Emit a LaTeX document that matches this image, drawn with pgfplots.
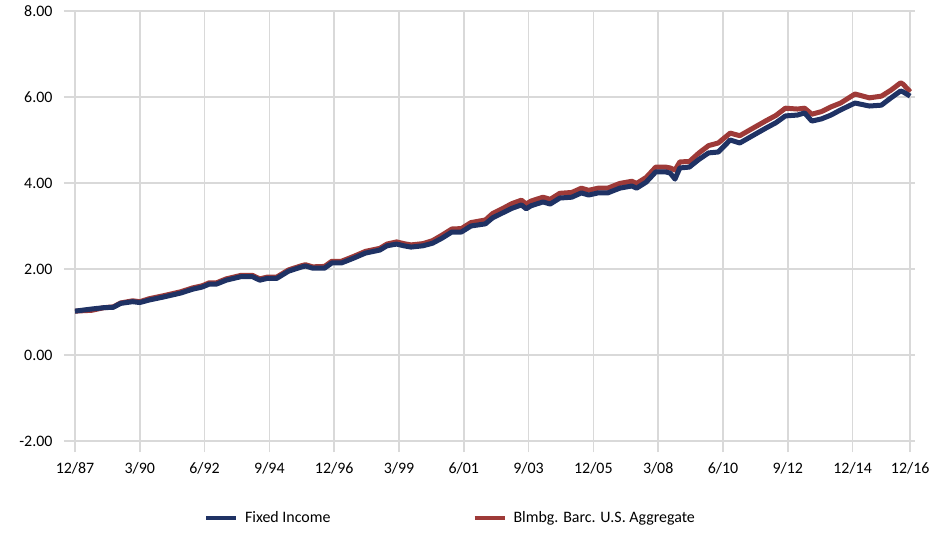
\documentclass[border=0pt]{standalone}
\usepackage{pgfplots}
\pgfplotsset{compat=1.18}
\usepackage{fontspec}
\setmainfont{Carlito}
\definecolor{fiblue}{HTML}{1F3264}
\definecolor{aggred}{HTML}{9E3A38}
\definecolor{gridgray}{HTML}{D9D9D9}
\begin{document}
\begin{tikzpicture}
\begin{axis}[
  name=ax,
  scale only axis,
  width=840bp, height=430bp,
  xmin=0, xmax=350,
  ymin=-2, ymax=8,
  axis x line*=bottom, axis y line*=left,
  axis line style={gridgray, line width=1.6bp},
  xtick={0,27,54,81,108,135,162,189,216,243,270,297,324,348},
  xticklabels={12/87,3/90,6/92,9/94,12/96,3/99,6/01,9/03,12/05,3/08,6/10,9/12,12/14,12/16},
  ytick={-2,0,2,4,6,8},
  yticklabels={-2.00,0.00,2.00,4.00,6.00,8.00},
  tick align=outside,
  major tick length=11bp,
  tick style={gridgray, line width=1.6bp},
  grid=major,
  major grid style={gridgray, line width=1.6bp},
  ticklabel style={font=\fontsize{16}{19}\selectfont, black},
  yticklabel style={xshift=-8bp},
  xticklabel style={yshift=-7bp},
  legend style={draw=none, fill=none, at={(0.447,-0.155)}, anchor=north,
    font=\fontsize{16}{19}\selectfont, legend columns=2,
    /tikz/every even column/.append style={column sep=140bp}},
  legend image code/.code={\draw[#1, line width=4bp] (0bp,0bp) -- (30bp,0bp);
    \path[draw=none] (0bp,0bp) -- (37bp,0bp);},
]
\addplot[aggred, line width=5bp, line join=round, forget plot] coordinates {
(0,1.02) (7,1.04) (12,1.10) (16,1.12) (19,1.21) (24,1.26) (27,1.24) (31,1.31)
(37,1.38) (44,1.47) (49,1.56) (53,1.61) (56,1.68) (59,1.68) (63,1.77) (69,1.85)
(74,1.85) (77,1.77) (80,1.81) (84,1.81) (89,1.98) (94,2.07) (96,2.10) (99,2.05)
(104,2.06) (107,2.18) (111,2.18) (116,2.29) (121,2.41) (127,2.48) (130,2.58)
(134,2.63) (137,2.59) (140,2.56) (145,2.59) (149,2.66) (153,2.79) (157,2.93)
(161,2.94) (165,3.08) (171,3.14) (174,3.29) (178,3.40) (182,3.52) (186,3.60)
(188,3.51) (190,3.58) (195,3.67) (198,3.62) (202,3.76) (207,3.78) (211,3.88)
(214,3.83) (218,3.88) (222,3.88) (227,3.99) (230,4.02) (232,4.04) (234,3.99)
(238,4.13) (242,4.37) (246,4.37) (248,4.35) (250,4.30) (252,4.49) (256,4.50)
(260,4.70) (264,4.87) (268,4.93) (273,5.16) (277,5.10) (282,5.26) (288,5.45)
(292,5.57) (296,5.74) (301,5.72) (304,5.74) (307,5.60) (311,5.66) (315,5.77)
(319,5.86) (325,6.07) (331,5.98) (336,6.02) (340,6.16) (344,6.33) (345,6.30)
(348,6.12)
};
\addplot[fiblue, line width=5bp, line join=round] coordinates {
(0,1.02) (7,1.07) (12,1.10) (16,1.11) (19,1.20) (24,1.24) (27,1.22) (31,1.28)
(37,1.35) (44,1.44) (49,1.53) (53,1.58) (56,1.65) (59,1.65) (63,1.74) (69,1.82)
(74,1.82) (77,1.74) (80,1.78) (84,1.78) (89,1.95) (94,2.04) (96,2.07) (99,2.02)
(104,2.02) (107,2.14) (111,2.14) (116,2.25) (121,2.37) (127,2.44) (130,2.54)
(134,2.58) (137,2.54) (140,2.51) (145,2.54) (149,2.60) (153,2.72) (157,2.86)
(161,2.86) (165,3.00) (171,3.05) (174,3.19) (178,3.30) (182,3.41) (186,3.49)
(188,3.40) (190,3.47) (195,3.56) (198,3.51) (202,3.65) (207,3.67) (211,3.77)
(214,3.72) (218,3.77) (222,3.77) (227,3.88) (230,3.91) (232,3.93) (234,3.88)
(238,4.02) (242,4.26) (246,4.26) (248,4.23) (250,4.09) (252,4.35) (256,4.37)
(260,4.55) (264,4.70) (268,4.72) (273,5.00) (277,4.93) (282,5.09) (288,5.28)
(292,5.40) (296,5.56) (301,5.58) (304,5.63) (307,5.44) (311,5.49) (315,5.58)
(319,5.70) (325,5.86) (331,5.79) (336,5.81) (340,5.98) (344,6.14) (345,6.12)
(348,6.02)
};
\addlegendentry{Fixed Income}
\addlegendimage{aggred}
\addlegendentry{Blmbg. Barc. U.S. Aggregate}
\end{axis}
\path[use as bounding box] (ax.south west) ++(-75bp,-95bp) rectangle ++(946bp,536bp);
\end{tikzpicture}
\end{document}
